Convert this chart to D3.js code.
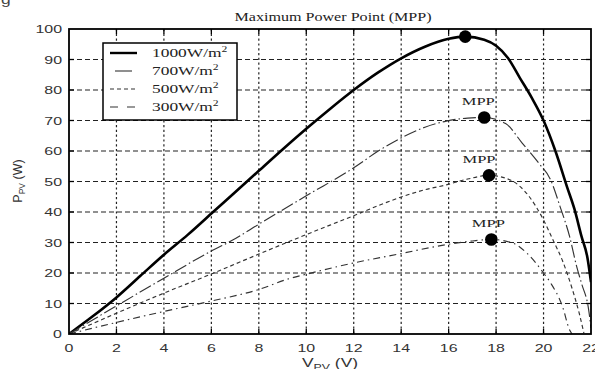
<!DOCTYPE html>
<html>
<head>
<meta charset="utf-8">
<script src="https://cdn.jsdelivr.net/npm/d3@7"></script>
<style>
  html, body { margin: 0; padding: 0; background: #fff; }
  svg { display: block; }
</style>
</head>
<body>
<svg id="chart" width="595" height="369"></svg>
<script>
// P-V characteristics of a PV module at four irradiance levels
const irradiance = ["1000W/m", "700W/m", "500W/m", "300W/m"];

const v1000 = [0, 1, 2, 3, 4, 5, 6, 7, 8, 9, 10, 11, 12, 13, 14, 15, 16, 16.7, 17.5, 18, 18.5, 19, 19.5, 20, 20.5, 21, 21.3, 21.6, 21.85, 22];
const p1000 = [0, 5.8, 12, 19, 26, 32.5, 39.5, 46.5, 53.5, 60.5, 67.3, 73.8, 80, 85.6, 90.4, 94.2, 96.8, 97.5, 96.5, 94.5, 90.5, 84, 77.5, 70, 60, 48, 41, 32, 25, 17];

const v700 = [0, 1.3, 2, 4, 6, 6.9, 8, 10, 12, 13.1, 14, 15, 15.9, 16.8, 17.5, 18.4, 19.1, 19.8, 20.3, 20.7, 21.1, 21.4, 21.6, 21.9, 22];
const p700 = [0, 6, 9.2, 18.3, 27.2, 30.8, 36, 45.3, 54.5, 60.3, 64.3, 67.8, 69.8, 70.8, 71, 69, 62.6, 56, 50.5, 41.7, 31.9, 22, 16.6, 8, 2];

const v500 = [0, 2, 4, 6.1, 8, 10, 12, 13.1, 14, 15, 15.9, 16.8, 17.7, 18.6, 19.4, 20, 20.4, 20.8, 21.2, 21.5, 21.7];
const p500 = [0, 6.8, 13.4, 20, 26.2, 32.6, 38.8, 42.3, 44.9, 47.3, 48.9, 50.8, 52, 50.5, 45, 37.4, 30.8, 24, 15, 6.9, 0.3];

const v300 = [0, 2, 4, 6, 8, 9.3, 10, 12, 13.95, 15.9, 17, 17.8, 18.7, 19.3, 20, 20.3, 20.8, 21.1, 21.2];
const p300 = [0, 3.8, 7.4, 10.8, 14.6, 18.2, 19.6, 23.3, 26.3, 29.3, 30.5, 31, 29.8, 26.5, 20, 16.7, 9, 1.3, 0];

// maximum power points (one per curve)
const mppV = [16.7, 17.5, 17.7, 17.8];
const mppP = [97.5, 71, 52, 31];

const xTicks = [0, 2, 4, 6, 8, 10, 12, 14, 16, 18, 20, 22];
const yTicks = [0, 10, 20, 30, 40, 50, 60, 70, 80, 90, 100];

const svg = d3.select("#chart");
const plotL = 69, plotR = 591, plotT = 29, plotB = 334;
const SX = 1.45; // wide lettering

const x = d3.scaleLinear().domain([0, 22]).range([plotL, plotR]);
const y = d3.scaleLinear().domain([0, 100]).range([plotB, plotT]);

function wideText(g, px, py, str, opts) {
  const t = g.append("text")
    .attr("transform", `translate(${px},${py}) scale(${opts.sx || SX},1)`)
    .attr("font-family", opts.family)
    .attr("font-size", opts.size)
    .attr("fill", opts.fill || "#000")
    .attr("text-anchor", opts.anchor || "start");
  if (opts.weight) t.attr("font-weight", opts.weight);
  t.text(str);
  return t;
}

// stray glyph at the corner
wideText(svg, 1, 4, "g", { family: "Liberation Sans", size: 12, fill: "#444" });

// grid: dotted verticals, dashed horizontals
const grid = svg.append("g");
grid.selectAll("line.v").data(xTicks.slice(1, -1)).join("line")
  .attr("x1", d => x(d)).attr("x2", d => x(d))
  .attr("y1", plotT).attr("y2", plotB)
  .attr("stroke", "#222").attr("stroke-width", 1.2)
  .attr("stroke-dasharray", "2.2,2.6");
grid.selectAll("line.h").data(yTicks.slice(1, -1)).join("line")
  .attr("x1", plotL).attr("x2", plotR)
  .attr("y1", d => y(d)).attr("y2", d => y(d))
  .attr("stroke", "#222").attr("stroke-width", 1.2)
  .attr("stroke-dasharray", "5,3");

// inward ticks on all four sides
const ticks = svg.append("g").attr("stroke", "#000").attr("stroke-width", 1.3);
xTicks.slice(1, -1).forEach(d => {
  ticks.append("line").attr("x1", x(d)).attr("x2", x(d)).attr("y1", plotB).attr("y2", plotB - 5);
  ticks.append("line").attr("x1", x(d)).attr("x2", x(d)).attr("y1", plotT).attr("y2", plotT + 5);
});
yTicks.slice(1, -1).forEach(d => {
  ticks.append("line").attr("x1", plotL).attr("x2", plotL + 5).attr("y1", y(d)).attr("y2", y(d));
  ticks.append("line").attr("x1", plotR).attr("x2", plotR - 5).attr("y1", y(d)).attr("y2", y(d));
});

// curves
const series = [
  { v: v1000, p: p1000, width: 2.6, dash: null, color: "#000" },
  { v: v700, p: p700, width: 1.15, dash: "13,3,1.5,3", color: "#333" },
  { v: v500, p: p500, width: 1.15, dash: "4,3", color: "#333" },
  { v: v300, p: p300, width: 1.15, dash: "7,4,1.5,4", color: "#333" }
];
const line = d3.line().x(d => x(d[0])).y(d => y(d[1])).curve(d3.curveMonotoneX);

svg.append("clipPath").attr("id", "plotClip")
  .append("rect").attr("x", plotL).attr("y", plotT).attr("width", plotR - plotL).attr("height", plotB - plotT);

const curves = svg.append("g").attr("clip-path", "url(#plotClip)");
series.forEach(s => {
  const pts = s.v.map((v, i) => [v, s.p[i]]);
  const path = curves.append("path")
    .attr("d", line(pts))
    .attr("fill", "none")
    .attr("stroke", s.color)
    .attr("stroke-width", s.width)
    .attr("stroke-linejoin", "round");
  if (s.dash) path.attr("stroke-dasharray", s.dash);
});

// MPP markers
svg.append("g").selectAll("circle").data(mppV).join("circle")
  .attr("cx", d => x(d))
  .attr("cy", (d, i) => y(mppP[i]))
  .attr("r", 6.3)
  .attr("fill", "#000");

// MPP labels for the three lower curves, set slightly left of each marker
const labelShift = [-6, -10, -3];
mppV.slice(1).forEach((v, i) => {
  wideText(svg, x(v) + labelShift[i], y(mppP[i + 1]) - 12, "MPP",
    { family: "Liberation Serif", size: 11, fill: "#222", anchor: "middle", sx: 1.5 });
});

// frame
svg.append("rect")
  .attr("x", plotL).attr("y", plotT)
  .attr("width", plotR - plotL).attr("height", plotB - plotT)
  .attr("fill", "none").attr("stroke", "#000").attr("stroke-width", 1.8);

// tick labels
xTicks.forEach(d => {
  wideText(svg, x(d), 352, d, { family: "Liberation Sans", size: 11, fill: "#333", anchor: "middle" });
});
yTicks.forEach(d => {
  wideText(svg, 62, y(d) + 4, d, { family: "Liberation Sans", size: 11, fill: "#333", anchor: "end" });
});

// title
wideText(svg, 333, 21, "Maximum Power Point (MPP)",
  { family: "Liberation Serif", size: 11.5, fill: "#222", anchor: "middle", sx: 1.4 });

// axis titles
const xt = svg.append("text")
  .attr("transform", `translate(330,367) scale(${SX},1)`)
  .attr("font-family", "Liberation Sans").attr("font-size", 12).attr("fill", "#333")
  .attr("text-anchor", "middle");
xt.append("tspan").text("V");
xt.append("tspan").attr("font-size", 8.5).attr("dy", 3).text("PV");
xt.append("tspan").attr("dy", -3).text(" (V)");

const yt = svg.append("text")
  .attr("transform", "translate(22,181) rotate(-90)")
  .attr("font-family", "Liberation Sans").attr("font-size", 12.5).attr("fill", "#333")
  .attr("text-anchor", "middle");
yt.append("tspan").text("P");
yt.append("tspan").attr("font-size", 8.5).attr("dy", 3).text("PV");
yt.append("tspan").attr("dy", -3).text(" (W)");

// legend
const lg = svg.append("g");
lg.append("rect").attr("x", 103).attr("y", 43).attr("width", 134).attr("height", 77)
  .attr("fill", "#fff").attr("stroke", "#000").attr("stroke-width", 1.5);
const legendY = [53, 71, 89, 107];
const legendDash = [null, null, "4,3", "8,9"];
irradiance.forEach((label, i) => {
  const s = series[i];
  const ln = lg.append("line")
    .attr("x1", 110).attr("x2", 137)
    .attr("y1", legendY[i]).attr("y2", legendY[i])
    .attr("stroke", s.color).attr("stroke-width", i === 0 ? 2.4 : 1.1);
  if (i === 1) ln.attr("x1", 115).attr("x2", 132);
  if (legendDash[i]) ln.attr("stroke-dasharray", legendDash[i]);
  const t = lg.append("text")
    .attr("transform", `translate(152,${legendY[i] + 4}) scale(1.45,1)`)
    .attr("font-family", "Liberation Serif").attr("font-size", 12).attr("fill", "#222");
  t.append("tspan").text(label);
  t.append("tspan").attr("font-size", 8).attr("dy", -5).text("2");
});
</script>
</body>
</html>
